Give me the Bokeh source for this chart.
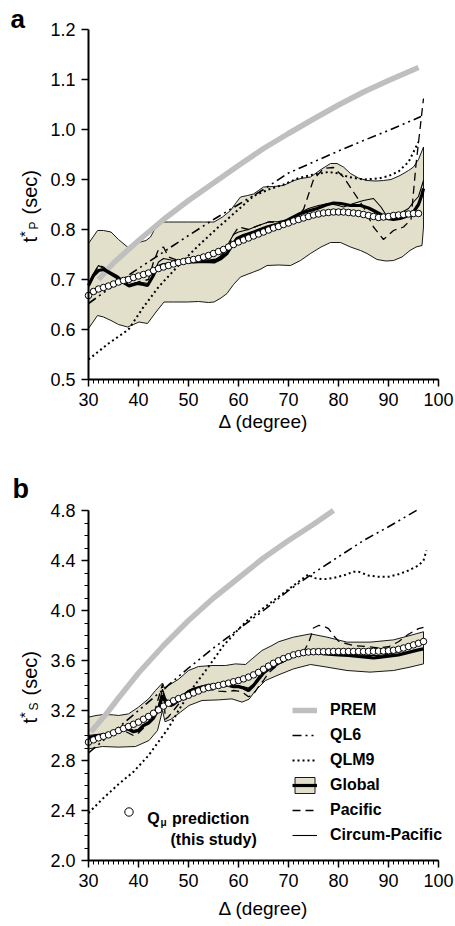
import math
from bokeh.plotting import figure
from bokeh.layouts import column
from bokeh.models import Range1d, FixedTicker, PrintfTickFormatter, Label, Legend, LegendItem
from bokeh.embed import file_html
from bokeh.resources import INLINE

FONT = "Liberation Sans"

# ---------------- shared ticks ----------------
x_major = [30, 40, 50, 60, 70, 80, 90, 100]
x_minor = list(range(30, 101))
ya_major = [0.5, 0.6, 0.7, 0.8, 0.9, 1.0, 1.1, 1.2]
yb_major = [2.0, 2.4, 2.8, 3.2, 3.6, 4.0, 4.4, 4.8]
yb_minor = [2.0, 2.1, 2.2, 2.3, 2.4, 2.5, 2.6, 2.7, 2.8, 2.9, 3.0, 3.1, 3.2, 3.3, 3.4, 3.5,
            3.6, 3.7, 3.8, 3.9, 4.0, 4.1, 4.2, 4.3, 4.4, 4.5, 4.6, 4.7, 4.8]

# ---------------- panel a (t*P) ----------------
a_prem_x = [32, 35, 40, 45, 50, 55, 60, 65, 70, 75, 80, 85, 90, 96]
a_prem_y = [0.700, 0.733, 0.778, 0.820, 0.858, 0.893, 0.928, 0.962, 0.992, 1.021, 1.049, 1.075, 1.098, 1.124]

a_ql6_x = [30, 35, 40, 45, 50, 55, 60, 65, 70, 75, 80, 85, 90, 96.5]
a_ql6_y = [0.652, 0.688, 0.722, 0.755, 0.788, 0.820, 0.850, 0.880, 0.913, 0.935, 0.957, 0.978, 0.998, 1.026]

a_qlm9_x = [30, 34, 38, 41, 44, 48, 52, 56, 60, 63, 66, 69, 72, 75, 78, 80, 82, 85, 88, 90, 92, 94, 96]
a_qlm9_y = [0.540, 0.572, 0.600, 0.645, 0.685, 0.728, 0.768, 0.805, 0.840, 0.867, 0.880, 0.890, 0.903,
            0.910, 0.915, 0.912, 0.905, 0.900, 0.902, 0.907, 0.916, 0.935, 0.975]

a_up_x = [30, 31.8, 33, 34.5, 36, 37.8, 39, 40.4, 41.5, 42.4, 43.3, 44.1, 46, 49.8, 53, 55.1, 56.8, 58.4,
          59.4, 60.4, 61.8, 63, 64, 65, 67, 69, 71.1, 72.5, 74.4, 76.5, 78.4, 79.7, 81, 82.4, 84, 85.7,
          87.5, 89, 90.5, 92.3, 94, 95, 96, 97]
a_up_y = [0.772, 0.798, 0.798, 0.795, 0.780, 0.765, 0.768, 0.775, 0.778, 0.785, 0.802, 0.815, 0.815, 0.815,
          0.815, 0.815, 0.825, 0.838, 0.852, 0.865, 0.868, 0.871, 0.878, 0.885, 0.886, 0.888, 0.898, 0.902,
          0.905, 0.920, 0.932, 0.932, 0.925, 0.912, 0.903, 0.898, 0.897, 0.898, 0.900, 0.908, 0.918, 0.925,
          0.940, 0.965]
a_lo_x = [30, 31.8, 33, 34.5, 36, 37.8, 39, 40.1, 41.8, 43.5, 45.1, 47, 49.8, 52, 54, 55.1, 56.5, 57.7, 59,
          60.4, 61.7, 63, 64.3, 65.7, 68, 70.4, 72.4, 74.4, 76.5, 78.4, 80.4, 82.4, 84.4, 85.7, 87.7, 89.5,
          91, 92.7, 94.3, 95.5, 96.7, 97]
a_lo_y = [0.602, 0.628, 0.625, 0.618, 0.610, 0.605, 0.610, 0.615, 0.612, 0.635, 0.655, 0.655, 0.655, 0.656,
          0.654, 0.655, 0.663, 0.672, 0.690, 0.705, 0.710, 0.715, 0.720, 0.728, 0.729, 0.728, 0.738, 0.752,
          0.765, 0.774, 0.774, 0.765, 0.758, 0.752, 0.740, 0.737, 0.738, 0.745, 0.758, 0.765, 0.768, 0.805]

a_glob_x = [30, 31, 32, 33, 34, 35.8, 37, 38.1, 39.8, 41, 41.8, 42.8, 43.8, 45, 47.1, 49, 51.1, 53, 55.1,
            56.5, 57.7, 58.7, 59.7, 61, 63.1, 65.7, 67.5, 69.1, 71, 72.4, 74, 75.7, 77.5, 79, 80.5, 82.4,
            84.4, 86, 87, 88.5, 89.7, 91, 92.3, 93.5, 95, 96, 96.7, 97]
a_glob_y = [0.688, 0.708, 0.718, 0.720, 0.715, 0.705, 0.694, 0.687, 0.692, 0.690, 0.688, 0.705, 0.725,
            0.730, 0.732, 0.735, 0.735, 0.736, 0.735, 0.742, 0.752, 0.768, 0.782, 0.788, 0.795, 0.805,
            0.810, 0.815, 0.825, 0.832, 0.837, 0.842, 0.849, 0.853, 0.852, 0.848, 0.848, 0.843, 0.838,
            0.830, 0.822, 0.820, 0.822, 0.826, 0.835, 0.850, 0.870, 0.882]

a_pac_x = [30, 31, 32, 33, 34, 36, 38, 40, 42, 43, 44, 45, 46, 48, 50, 52, 54, 56, 58, 59, 60, 62, 64, 66,
           68, 70, 72, 73, 74, 75, 77, 79, 81, 83, 85, 87, 89, 91, 93, 94.5, 95.5, 97]
a_pac_y = [0.685, 0.710, 0.728, 0.725, 0.715, 0.700, 0.688, 0.695, 0.700, 0.735, 0.760, 0.765, 0.745,
           0.738, 0.738, 0.740, 0.738, 0.742, 0.765, 0.790, 0.805, 0.800, 0.808, 0.815, 0.815, 0.818,
           0.830, 0.840, 0.870, 0.900, 0.922, 0.924, 0.905, 0.875, 0.845, 0.805, 0.780, 0.798, 0.805,
           0.820, 0.930, 1.062]

a_cir_x = [30, 31, 32, 33, 34, 36, 38, 40, 42, 43, 44, 45, 47, 50, 53, 55, 57, 58, 59, 60, 62, 64, 66, 68,
           70, 72, 74, 76, 78, 80, 81, 83, 85, 87, 88.5, 89.7, 91, 92.3, 94, 95, 96, 97]
a_cir_y = [0.690, 0.712, 0.728, 0.722, 0.712, 0.700, 0.690, 0.695, 0.692, 0.712, 0.735, 0.742, 0.738,
           0.738, 0.740, 0.738, 0.750, 0.772, 0.790, 0.795, 0.800, 0.808, 0.815, 0.816, 0.820, 0.832,
           0.842, 0.848, 0.852, 0.848, 0.845, 0.852, 0.858, 0.862, 0.845, 0.826, 0.830, 0.832, 0.842,
           0.855, 0.866, 0.898]

a_q_x = list(range(30, 97))
a_q_y = [0.668, 0.676, 0.681, 0.684, 0.687, 0.691, 0.695, 0.698, 0.700, 0.704, 0.707, 0.710, 0.713,
         0.718, 0.722, 0.725, 0.728, 0.731, 0.734, 0.736, 0.738, 0.740, 0.742, 0.745, 0.748, 0.752,
         0.756, 0.760, 0.765, 0.770, 0.775, 0.779, 0.783, 0.787, 0.791, 0.795, 0.799, 0.803, 0.806,
         0.810, 0.813, 0.817, 0.820, 0.823, 0.826, 0.829, 0.831, 0.833, 0.834, 0.835, 0.835, 0.835,
         0.834, 0.833, 0.832, 0.830, 0.828, 0.826, 0.824, 0.825, 0.826, 0.828, 0.829, 0.830, 0.831,
         0.832, 0.832]

# ---------------- panel b (t*S) ----------------
b_prem_x = [30.5, 33.5, 36, 40, 45, 50, 55, 60, 65, 70, 75, 79]
b_prem_y = [3.03, 3.17, 3.30, 3.50, 3.72, 3.92, 4.10, 4.26, 4.42, 4.56, 4.69, 4.80]

b_ql6_x = [30, 35, 40, 45, 50, 55, 60, 65, 70, 75, 80, 85, 90, 96]
b_ql6_y = [2.86, 3.03, 3.20, 3.37, 3.54, 3.70, 3.85, 4.00, 4.16, 4.30, 4.43, 4.56, 4.67, 4.81]

b_qlm9_x = [30, 33, 36, 39, 42, 44, 46, 48, 51, 54, 57, 60, 62, 64, 66, 68, 70, 72, 74, 75, 77, 79, 81,
            83, 84, 86, 88, 90, 92, 94, 96, 97, 97.6]
b_qlm9_y = [2.38, 2.50, 2.61, 2.71, 2.84, 2.95, 3.06, 3.20, 3.39, 3.55, 3.72, 3.85, 3.93, 3.99, 4.05,
            4.11, 4.17, 4.23, 4.29, 4.26, 4.25, 4.26, 4.28, 4.31, 4.31, 4.28, 4.27, 4.27, 4.29, 4.32,
            4.36, 4.40, 4.48]

b_up_x = [30, 31.5, 33, 35, 36, 38, 40, 42, 43.4, 44.8, 45.3, 46, 48, 50, 52, 54.7, 57.4, 59.4, 61.4,
          62.7, 64.7, 66.7, 68, 71, 74.4, 77.7, 81.7, 86.3, 91, 94.3, 97]
b_up_y = [3.147, 3.160, 3.168, 3.165, 3.160, 3.173, 3.227, 3.293, 3.360, 3.420, 3.370, 3.400, 3.450,
          3.520, 3.552, 3.560, 3.560, 3.573, 3.568, 3.613, 3.680, 3.720, 3.750, 3.787, 3.813, 3.787,
          3.747, 3.747, 3.765, 3.800, 3.830]
b_lo_x = [30, 32.8, 36, 39.4, 42.1, 43.8, 44.8, 45.3, 46.5, 48.4, 50.1, 52.7, 56, 58.7, 60.7, 62.1,
          63.4, 65.4, 67.7, 71, 74.4, 77.7, 81.7, 86.3, 91, 94.3, 97]
b_lo_y = [2.893, 2.912, 2.907, 2.912, 2.960, 3.040, 3.200, 3.110, 3.130, 3.187, 3.240, 3.280, 3.285,
          3.293, 3.267, 3.290, 3.360, 3.440, 3.480, 3.533, 3.568, 3.547, 3.520, 3.507, 3.520, 3.547,
          3.573]

b_glob_x = [30, 31, 32, 33, 34, 35, 36, 37, 38, 39, 40, 41, 42, 43, 44, 44.8, 45.4, 46.4, 47, 48, 49,
            50, 51, 52, 53, 54, 55, 56, 57, 58, 59, 60, 61, 62, 63, 64, 65, 66, 67, 68, 69, 70, 71, 72,
            73, 74, 75, 76, 77, 78, 80, 82, 84, 86, 87, 88, 90, 92, 94, 96, 97]
b_glob_y = [2.98, 2.99, 3.00, 3.00, 3.01, 3.02, 3.04, 3.05, 3.05, 3.03, 3.04, 3.08, 3.10, 3.14, 3.21,
            3.32, 3.27, 3.24, 3.25, 3.28, 3.32, 3.35, 3.37, 3.38, 3.39, 3.40, 3.40, 3.40, 3.40, 3.40,
            3.39, 3.39, 3.38, 3.36, 3.40, 3.45, 3.50, 3.53, 3.55, 3.58, 3.60, 3.62, 3.64, 3.65, 3.66,
            3.67, 3.665, 3.66, 3.655, 3.65, 3.645, 3.64, 3.632, 3.625, 3.62, 3.625, 3.635, 3.645, 3.665,
            3.685, 3.693]

b_pac_x = [30, 32, 34, 36, 37, 38, 39, 40, 41, 42, 43, 44, 44.8, 45.4, 46, 48, 50, 52, 54, 56, 58, 59,
           60, 61, 62, 63, 64, 65, 66, 68, 70, 72, 73, 74, 75, 76, 77, 78, 79, 80, 81, 83, 86, 88, 90,
           92, 94, 96, 97]
b_pac_y = [2.99, 3.00, 3.00, 3.03, 3.04, 3.02, 3.00, 3.02, 3.06, 3.10, 3.16, 3.30, 3.41, 3.13, 3.15,
           3.25, 3.32, 3.36, 3.37, 3.355, 3.35, 3.36, 3.355, 3.34, 3.31, 3.33, 3.39, 3.44, 3.50, 3.57,
           3.61, 3.65, 3.67, 3.74, 3.86, 3.88, 3.875, 3.855, 3.80, 3.755, 3.74, 3.72, 3.71, 3.70, 3.71,
           3.75, 3.81, 3.855, 3.865]

b_cir_x = [30, 32, 34, 36, 38, 39, 40, 42, 43, 44, 44.8, 45.4, 46.4, 48, 50, 52, 54, 56, 58, 60, 61, 62,
           63, 64, 66, 68, 70, 72, 74, 76, 78, 80, 82, 84, 86, 88, 90, 92, 94, 96, 97]
b_cir_y = [3.00, 3.01, 3.02, 3.05, 3.06, 3.04, 3.05, 3.11, 3.15, 3.24, 3.37, 3.30, 3.25, 3.29, 3.36,
           3.39, 3.41, 3.41, 3.41, 3.40, 3.39, 3.38, 3.41, 3.47, 3.54, 3.59, 3.63, 3.655, 3.68, 3.67,
           3.66, 3.66, 3.655, 3.645, 3.64, 3.64, 3.65, 3.67, 3.70, 3.74, 3.76]

b_q_x = list(range(30, 98))
b_q_y = [2.947, 2.965, 2.981, 2.993, 3.005, 3.022, 3.040, 3.056, 3.072, 3.090, 3.107, 3.130, 3.152,
         3.178, 3.205, 3.235, 3.258, 3.278, 3.295, 3.308, 3.322, 3.340, 3.356, 3.372, 3.384, 3.393,
         3.400, 3.410, 3.419, 3.430, 3.440, 3.453, 3.467, 3.485, 3.505, 3.530, 3.555, 3.578, 3.598,
         3.615, 3.630, 3.645, 3.655, 3.663, 3.668, 3.670, 3.671, 3.671, 3.671, 3.672, 3.672, 3.672,
         3.672, 3.672, 3.672, 3.672, 3.673, 3.674, 3.675, 3.676, 3.678, 3.682, 3.690, 3.700, 3.712,
         3.725, 3.738, 3.752]

legend_labels = ["PREM", "QL6", "QLM9", "Global", "Pacific", "Circum-Pacific"]

PREM_C = "#bfbfbf"
BAND_C = "#e2dfcb"

W = 455
PX_PER_DEG = 5.0      # 70 degrees over 350 px
AXIS_LEFT_PX = 88     # pixel column of the y axis


def make_panel(height, axis_top_px, yr, px_per_unit, yticks, yminor, title_standoff):
    # The frame spans the whole canvas so that texts placed beside the axes are not clipped;
    # the axes are pinned at x = 30 and y = yr[0] and bounded to the data ranges.
    x0 = 30 - AXIS_LEFT_PX / PX_PER_DEG
    x1 = x0 + W / PX_PER_DEG
    ytop = yr[1] + axis_top_px / px_per_unit
    ybot = ytop - height / px_per_unit
    p = figure(width=W, height=height, x_range=Range1d(x0, x1), y_range=Range1d(ybot, ytop),
               output_backend="svg", toolbar_location=None,
               min_border=0, min_border_left=0, min_border_right=0, min_border_top=0,
               min_border_bottom=0)
    p.outline_line_color = None
    p.grid.visible = False
    p.background_fill_color = "white"
    p.border_fill_color = "white"
    xa = p.xaxis[0]
    xa.ticker = FixedTicker(ticks=x_major, minor_ticks=x_minor)
    xa.fixed_location = yr[0]
    xa.bounds = (30, 100)
    ya = p.yaxis[0]
    ya.ticker = FixedTicker(ticks=yticks, minor_ticks=yminor)
    ya.formatter = PrintfTickFormatter(format="%.1f")
    ya.fixed_location = 30
    ya.bounds = yr
    for ax in (xa, ya):
        ax.axis_line_width = 2
        ax.axis_line_color = "black"
        ax.major_tick_line_width = 1.5
        ax.minor_tick_line_width = 1
        ax.major_tick_in = 0
        ax.major_tick_out = 7
        ax.minor_tick_in = 0
        ax.minor_tick_out = 4
        ax.major_label_text_font = FONT
        ax.major_label_text_font_size = "18px"
        ax.major_label_text_color = "black"
        ax.major_label_standoff = 6
    xa.axis_label = "Δ (degree)"
    xa.axis_label_text_font = FONT
    xa.axis_label_text_font_size = "19px"
    xa.axis_label_text_font_style = "normal"
    xa.axis_label_text_color = "black"
    xa.axis_label_standoff = title_standoff
    return p


def add_ytitle(p, sub, y_t):
    common = dict(x_units="screen", y_units="screen", angle=math.pi / 2, text_align="left",
                  text_baseline="alphabetic", text_font=FONT, text_color="black")
    p.add_layout(Label(x=29, y=y_t, text="t", text_font_size="20px", **common))
    p.add_layout(Label(x=24, y=y_t + 5.6, text="*", text_font_size="15px", **common))
    p.add_layout(Label(x=33, y=y_t + 13, text=sub, text_font_size="12px", **common))
    p.add_layout(Label(x=29, y=y_t + 28, text="(sec)", text_font_size="20px", **common))


def draw(p, prem, ql6, qlm9, up, lo, glob, pac, cir, q):
    band = p.patch(up[0] + lo[0][::-1], up[1] + lo[1][::-1], fill_color=BAND_C,
                   line_color="black", line_width=0.9)
    r_prem = p.line(prem[0], prem[1], line_color=PREM_C, line_width=5.5)
    r_ql6 = p.line(ql6[0], ql6[1], line_color="black", line_width=1.6, line_dash="9 4 2 4 2 4")
    r_qlm9 = p.line(qlm9[0], qlm9[1], line_color="black", line_width=2, line_dash="2 3")
    r_pac = p.line(pac[0], pac[1], line_color="black", line_width=1.3, line_dash="8 5")
    r_cir = p.line(cir[0], cir[1], line_color="black", line_width=1.1)
    r_glob = p.line(glob[0], glob[1], line_color="black", line_width=3.2)
    r_q = p.scatter(q[0], q[1], marker="circle", size=6.5, fill_color="white",
                    line_color="black", line_width=1)
    return dict(band=band, prem=r_prem, ql6=r_ql6, qlm9=r_qlm9, pac=r_pac, cir=r_cir,
                glob=r_glob, q=r_q)


# ---- panel a
pa = make_panel(460, 29, (0.5, 1.2), 500.0, ya_major, [], 2)
draw(pa, (a_prem_x, a_prem_y), (a_ql6_x, a_ql6_y), (a_qlm9_x, a_qlm9_y), (a_up_x, a_up_y),
     (a_lo_x, a_lo_y), (a_glob_x, a_glob_y), (a_pac_x, a_pac_y), (a_cir_x, a_cir_y), (a_q_x, a_q_y))
add_ytitle(pa, "P", 218)
pa.add_layout(Label(x=10, y=457, x_units="screen", y_units="screen", text="a", text_font=FONT,
                    text_font_size="26px", text_font_style="bold", text_color="black",
                    text_baseline="top"))

# ---- panel b
pb = make_panel(466, 50, (2.0, 4.8), 125.0, yb_major, yb_minor, 8)
rb = draw(pb, (b_prem_x, b_prem_y), (b_ql6_x, b_ql6_y), (b_qlm9_x, b_qlm9_y), (b_up_x, b_up_y),
          (b_lo_x, b_lo_y), (b_glob_x, b_glob_y), (b_pac_x, b_pac_y), (b_cir_x, b_cir_y), (b_q_x, b_q_y))
add_ytitle(pb, "S", 203)
pb.add_layout(Label(x=12, y=423, x_units="screen", y_units="screen", text="b", text_font=FONT,
                    text_font_size="27px", text_font_style="bold", text_color="black"))

items = [
    LegendItem(label=legend_labels[0], renderers=[rb["prem"]]),
    LegendItem(label=legend_labels[1], renderers=[rb["ql6"]]),
    LegendItem(label=legend_labels[2], renderers=[rb["qlm9"]]),
    LegendItem(label=legend_labels[3], renderers=[rb["band"], rb["glob"]]),
    LegendItem(label=legend_labels[4], renderers=[rb["pac"]]),
    LegendItem(label=legend_labels[5], renderers=[rb["cir"]]),
]
leg = Legend(items=items, location=(292, 81), orientation="vertical", glyph_width=25, glyph_height=20,
             label_height=20, spacing=5, padding=0, margin=0, label_standoff=13,
             border_line_color=None, background_fill_alpha=0, label_text_font=FONT,
             label_text_font_size="16px", label_text_font_style="bold", label_text_color="black",
             label_text_baseline="middle")
pb.add_layout(leg)

leg_q = Legend(items=[LegendItem(label=" ", renderers=[rb["q"]])], location=(118, 104),
               glyph_width=21, glyph_height=21, label_height=21, padding=0, margin=0,
               label_standoff=0, border_line_color=None, background_fill_alpha=0,
               label_text_font_size="4px")
pb.add_layout(leg_q)

lab = dict(x_units="screen", y_units="screen", text_font=FONT, text_font_style="bold",
           text_color="black", text_baseline="alphabetic", text_align="left")
pb.add_layout(Label(x=146.7, y=108.5, text="Q", text_font_size="16px", **lab))
pb.add_layout(Label(x=160, y=104.5, text="μ", text_font_size="10px", **lab))
pb.add_layout(Label(x=171.5, y=108.5, text="prediction", text_font_size="16px", **lab))
pb.add_layout(Label(x=170, y=87.5, text="(this study)", text_font_size="16px", **lab))

layout = column(pa, pb, spacing=0)
open("out.html", "w").write(file_html(layout, INLINE))
